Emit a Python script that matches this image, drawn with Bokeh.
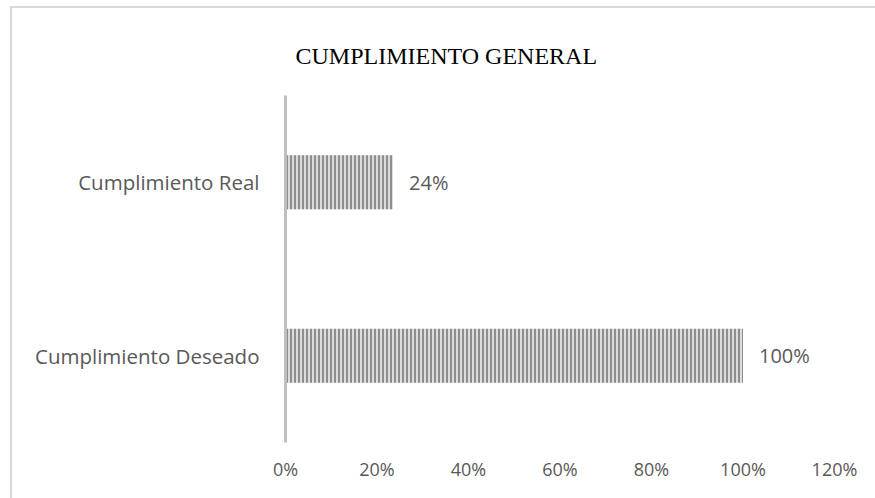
from bokeh.plotting import figure
from bokeh.models import (ColumnDataSource, Range1d, FixedTicker, NumeralTickFormatter, Title)
from bokeh.core.properties import value
from bokeh.embed import file_html
from bokeh.resources import INLINE

# Data
categories = ["Cumplimiento Deseado", "Cumplimiento Real"]
values = [1.00, 0.235]
labels = ["100%", "24%"]
x_ticks = [0, 0.2, 0.4, 0.6, 0.8, 1.0, 1.2]
title_text = "CUMPLIMIENTO GENERAL"

W, H = 875, 498
FL, FR, FT, FB = 285, 834, 95, 442

source = ColumnDataSource(dict(cat=categories, val=values, lab=labels))

p = figure(width=W, height=H, y_range=categories, x_range=Range1d(0, 1.2),
           output_backend="svg", toolbar_location=None,
           min_border_left=FL, min_border_right=W - FR,
           min_border_top=FT, min_border_bottom=H - FB)
# transparent canvas so that the chart-area border drawn by CSS shows through
p.background_fill_color = None
p.border_fill_color = None
g = "linear-gradient(#d9d9d9, #d9d9d9)"
p.styles = {"background": (f"{g} 10px 6px / 2px calc(100% - 6px) no-repeat, "
                           f"{g} 10px 6px / calc(100% - 10px) 2px no-repeat, #ffffff")}
p.title.visible = False
p.outline_line_color = None
p.xgrid.visible = False
p.ygrid.visible = False

p.hbar(y="cat", right="val", left=0, height=0.31, source=source,
       fill_color="#dcdcdc", line_color=None,
       hatch_pattern="vertical_line", hatch_color="#8e8e8e",
       hatch_scale=4, hatch_weight=2)

p.text(x="val", y="cat", text="lab", source=source, x_offset=16,
       text_baseline="middle", text_align="left",
       text_font=value("Open Sans"), text_font_size="20px", text_color="#595959")

xa = p.xaxis[0]
xa.ticker = FixedTicker(ticks=x_ticks)
xa.formatter = NumeralTickFormatter(format="0%")
xa.axis_line_color = None
xa.major_tick_line_color = None
xa.minor_tick_line_color = None
xa.major_label_standoff = 8
xa.major_label_text_font = "Open Sans"
xa.major_label_text_font_size = "18px"
xa.major_label_text_color = "#595959"

ya = p.yaxis[0]
ya.axis_line_color = "#bfbfbf"
ya.axis_line_width = 3
ya.major_tick_line_color = None
ya.minor_tick_line_color = None
ya.major_label_standoff = 20
ya.major_label_text_font = "Open Sans"
ya.major_label_text_font_size = "20.5px"
ya.major_label_text_color = "#595959"

p.add_layout(Title(text=title_text, align="left", offset=10, standoff=54,
                   text_font="Liberation Serif", text_font_size="24px",
                   text_font_style="normal", text_color="#000000"), "above")

open("out.html", "w").write(file_html(p, INLINE))
